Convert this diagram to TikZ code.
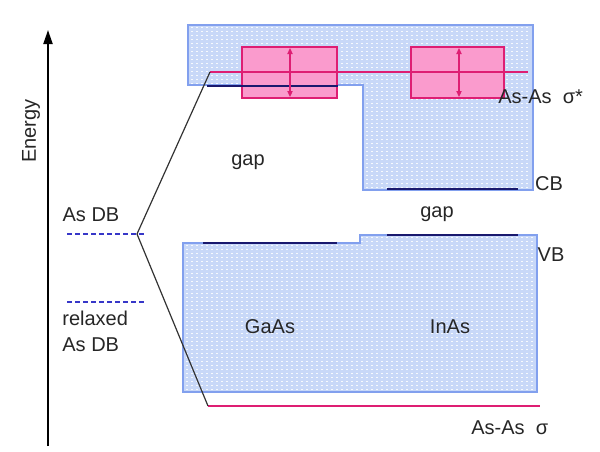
\documentclass[tikz,border=0pt]{standalone}
\usepackage{fontspec}
\setmainfont{Liberation Sans}
\usetikzlibrary{arrows.meta}
\definecolor{bandfill}{RGB}{200,216,248}
\definecolor{banddraw}{RGB}{130,160,238}
\definecolor{pinkfill}{RGB}{250,155,205}
\definecolor{pinkline}{RGB}{222,30,115}
\definecolor{darkblue}{RGB}{25,25,110}
\definecolor{dashblue}{RGB}{55,55,200}
\tikzset{
  lbl/.style={font=\fontsize{10}{13}\selectfont, text=black!85, inner sep=0pt},
  band/.style={fill=bandfill, draw=banddraw, line width=0.8pt},
  pinkbox/.style={fill=pinkfill, draw=pinkline, line width=0.7pt},
  pinklevel/.style={draw=pinkline, line width=0.9pt},
  darklevel/.style={draw=darkblue, line width=1pt},
  dblevel/.style={draw=dashblue, line width=0.7pt, dash pattern=on 2.5pt off 1.5pt},
  corr/.style={draw=black!80, line width=0.6pt},
  texture/.style={draw=white, line width=0.6pt, dash pattern=on 0.6pt off 1.4pt, opacity=0.85},
  split/.style={draw=pinkline, line width=0.8pt, {Triangle[length=3pt,width=2.6pt]}-{Triangle[length=3pt,width=2.6pt]}}
}
\begin{document}
\begin{tikzpicture}[x=0.5pt,y=-0.5pt]
\useasboundingbox (0,0) rectangle (600,451);
% conduction band region
\path[band] (188,25) -- (533,25) -- (533,190) -- (363,190) -- (363,85) -- (188,85) -- cycle;
\begin{scope}
\clip (188,25) -- (533,25) -- (533,190) -- (363,190) -- (363,85) -- (188,85) -- cycle;
\foreach \x in {192,197,...,530} \draw[texture] (\x,27) -- (\x,189);
\end{scope}
% valence band region
\path[band] (183,243) -- (360,243) -- (360,235) -- (537,235) -- (537,392) -- (183,392) -- cycle;
\begin{scope}
\clip (183,243) -- (360,243) -- (360,235) -- (537,235) -- (537,392) -- (183,392) -- cycle;
\foreach \x in {187,192,...,535} \draw[texture] (\x,237) -- (\x,390);
\end{scope}
% band edges
\draw[darklevel] (207,86) -- (337,86);
\draw[darklevel] (387,189) -- (518,189);
\draw[darklevel] (203,243) -- (337,243);
\draw[darklevel] (387,235) -- (518,235);
% split boxes
\node[pinkbox, minimum width=47.5pt, minimum height=25.5pt, inner sep=0pt] (boxA) at (289.5,72.5) {};
\node[pinkbox, minimum width=46.5pt, minimum height=25.5pt, inner sep=0pt] (boxB) at (457.5,72.5) {};
\draw[darklevel] (boxA.west |- 0,86) -- (boxA.east |- 0,86);
\draw[split] (290,48) -- (290,97);
\draw[split] (459,48) -- (459,97);
% levels and correlation lines
\coordinate (sstar) at (210,72);
\coordinate (sstarR) at (528,72);
\coordinate (db) at (137,234);
\coordinate (sig) at (208,406);
\coordinate (sigR) at (540,406);
\draw[pinklevel] (sstar) -- (sstarR);
\draw[pinklevel] (sig) -- (sigR);
\draw[corr] (sstar) -- (db) -- (sig);
\coordinate (dbL) at (67,234);
\coordinate (dbR) at (145,234);
\coordinate (rdL) at (67,302);
\coordinate (rdR) at (145,302);
\draw[dblevel] (dbL) -- (dbR);
\draw[dblevel] (rdL) -- (rdR);
% energy axis
\coordinate (axb) at (48,446);
\coordinate (axt) at (48,30);
\draw[line width=1pt, -{Triangle[length=7pt,width=4.5pt]}] (axb) -- (axt);
% labels
\node[lbl, rotate=90] (energy) at (31,131) {Energy};
\node[lbl] (asdb) at (91,215) {As DB};
\node[lbl, anchor=north west, align=left] (relax) at (62,311) {relaxed\\As DB};
\node[lbl] (gap1) at (248,162) {gap};
\node[lbl] (gap2) at (437,214) {gap};
\node[lbl] (cb) at (549,184) {CB};
\node[lbl] (vb) at (551,255) {VB};
\node[lbl] (gaas) at (270,327) {GaAs};
\node[lbl] (inas) at (450,327) {InAs};
\node[lbl, anchor=west] (sigstar) at (498,97) {As-As\ \ σ*};
\node[lbl, anchor=west] (siglab) at (471,428) {As-As\ \ σ};
\end{tikzpicture}
\end{document}
